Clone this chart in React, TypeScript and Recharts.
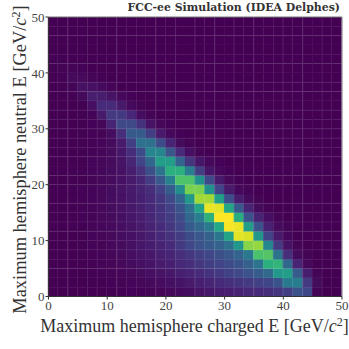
import { Bar, BarChart, ReferenceLine, XAxis, YAxis } from "recharts";

const WIDTH = 349;
const HEIGHT = 349;
const MARGIN = { top: 17, right: 7, left: 0, bottom: 0 };
const Y_AXIS_W = 48.5;
const X_AXIS_H = 52.5;
const BIN = 50 / 30;
const FONT = "'Liberation Serif', serif";

const ticks = [0, 10, 20, 30, 40, 50];

// bin centres along charged E
const binCenters = [
  0.83, 2.5, 4.17, 5.83, 7.5, 9.17, 10.83, 12.5, 14.17, 15.83, 17.5, 19.17, 20.83, 22.5, 24.17,
  25.83, 27.5, 29.17, 30.83, 32.5, 34.17, 35.83, 37.5, 39.17, 40.83, 42.5, 44.17, 45.83, 47.5, 49.17,
];

// faint seams of the mesh, at bin edges
const seamsX = [3.33, 6.67, 8.33, 11.67, 15, 18.33, 21.67, 25, 28.33, 31.67, 35, 38.33, 40, 43.33, 46.67];
const seamsY = [5, 8.33, 11.67, 13.33, 16.67, 20, 21.67, 25, 28.33, 30, 33.33, 36.67, 38.33, 41.67, 46.67];

// normalised counts, read by eye. Row 0 is the lowest neutral E bin
const heat = [
  [0, 0, 0, 0, 0, 0, .002, .003, .005, .007, .01, .014, .02, .026, .035, .05, .065, .075, .085, .095, .11, .12, .13, .15, .18, .25, .21, .01, 0, 0],
  [0, 0, 0, 0, .002, .004, .007, .01, .014, .018, .025, .032, .042, .055, .07, .085, .1, .12, .135, .15, .17, .19, .21, .26, .41, .42, .17, .03, 0, 0],
  [0, 0, 0, 0, .003, .006, .01, .015, .02, .03, .04, .05, .065, .085, .1, .12, .145, .17, .195, .22, .25, .29, .34, .53, .55, .29, .08, .01, 0, 0],
  [0, 0, 0, .002, .004, .008, .013, .02, .03, .04, .055, .07, .085, .11, .13, .155, .18, .2, .23, .26, .31, .38, .63, .65, .33, .1, .02, 0, 0, 0],
  [0, 0, 0, .002, .006, .011, .017, .025, .038, .05, .065, .085, .1, .13, .155, .185, .21, .24, .27, .32, .4, .71, .73, .38, .13, .03, .01, 0, 0, 0],
  [0, 0, 0, .003, .008, .013, .02, .03, .042, .06, .075, .095, .12, .165, .21, .25, .28, .31, .37, .52, .82, .84, .46, .17, .05, .01, 0, 0, 0, 0],
  [0, 0, 0, .003, .009, .015, .024, .034, .047, .065, .085, .11, .14, .175, .23, .27, .31, .39, .58, .96, .94, .52, .2, .07, .02, 0, 0, 0, 0, 0],
  [0, 0, .002, .004, .01, .017, .026, .038, .05, .072, .095, .12, .155, .2, .28, .33, .41, .6, .99, .97, .55, .25, .09, .03, .01, 0, 0, 0, 0, 0],
  [0, 0, .002, .005, .011, .019, .03, .042, .06, .08, .105, .14, .175, .23, .33, .42, .64, 1, 1, .62, .26, .1, .04, .01, 0, 0, 0, 0, 0, 0],
  [0, 0, .002, .005, .012, .021, .034, .047, .064, .085, .11, .145, .19, .26, .37, .58, .97, .96, .6, .28, .1, .03, .01, 0, 0, 0, 0, 0, 0, 0],
  [0, 0, .002, .005, .012, .021, .034, .047, .068, .085, .115, .155, .22, .32, .53, .86, .86, .56, .24, .08, .03, .01, 0, 0, 0, 0, 0, 0, 0, 0],
  [0, 0, .002, .005, .012, .021, .034, .05, .07, .095, .13, .19, .29, .48, .8, .8, .5, .2, .07, .02, .01, 0, 0, 0, 0, 0, 0, 0, 0, 0],
  [0, 0, .002, .004, .01, .019, .03, .047, .07, .105, .175, .27, .43, .72, .72, .5, .22, .07, .02, .005, 0, 0, 0, 0, 0, 0, 0, 0, 0, 0],
  [0, 0, .002, .004, .009, .017, .03, .047, .08, .14, .24, .38, .63, .63, .42, .18, .06, .02, .005, 0, 0, 0, 0, 0, 0, 0, 0, 0, 0, 0],
  [0, 0, .002, .003, .008, .017, .03, .052, .105, .2, .33, .55, .55, .32, .15, .06, .02, .005, 0, 0, 0, 0, 0, 0, 0, 0, 0, 0, 0, 0],
  [0, 0, .001, .003, .007, .015, .03, .06, .125, .23, .46, .46, .27, .12, .04, .01, 0, 0, 0, 0, 0, 0, 0, 0, 0, 0, 0, 0, 0, 0],
  [0, 0, .001, .003, .007, .014, .03, .07, .18, .37, .37, .23, .1, .03, .01, 0, 0, 0, 0, 0, 0, 0, 0, 0, 0, 0, 0, 0, 0, 0],
  [0, 0, .001, .002, .006, .013, .035, .13, .28, .28, .18, .07, .02, .005, 0, 0, 0, 0, 0, 0, 0, 0, 0, 0, 0, 0, 0, 0, 0, 0],
  [0, 0, .001, .002, .005, .017, .1, .22, .22, .14, .05, .02, .005, 0, 0, 0, 0, 0, 0, 0, 0, 0, 0, 0, 0, 0, 0, 0, 0, 0],
  [0, 0, .001, .002, .008, .07, .17, .17, .11, .035, .01, 0, 0, 0, 0, 0, 0, 0, 0, 0, 0, 0, 0, 0, 0, 0, 0, 0, 0, 0],
  [0, 0, .001, .003, .04, .12, .12, .07, .025, .01, 0, 0, 0, 0, 0, 0, 0, 0, 0, 0, 0, 0, 0, 0, 0, 0, 0, 0, 0, 0],
  [0, 0, .002, .025, .08, .08, .05, .02, .005, 0, 0, 0, 0, 0, 0, 0, 0, 0, 0, 0, 0, 0, 0, 0, 0, 0, 0, 0, 0, 0],
  [0, .002, .012, .045, .045, .025, .008, 0, 0, 0, 0, 0, 0, 0, 0, 0, 0, 0, 0, 0, 0, 0, 0, 0, 0, 0, 0, 0, 0, 0],
  [0, .005, .025, .025, .012, .004, 0, 0, 0, 0, 0, 0, 0, 0, 0, 0, 0, 0, 0, 0, 0, 0, 0, 0, 0, 0, 0, 0, 0, 0],
  [.002, .01, .01, .005, 0, 0, 0, 0, 0, 0, 0, 0, 0, 0, 0, 0, 0, 0, 0, 0, 0, 0, 0, 0, 0, 0, 0, 0, 0, 0],
  [.003, .003, .001, 0, 0, 0, 0, 0, 0, 0, 0, 0, 0, 0, 0, 0, 0, 0, 0, 0, 0, 0, 0, 0, 0, 0, 0, 0, 0, 0],
  [0, 0, 0, 0, 0, 0, 0, 0, 0, 0, 0, 0, 0, 0, 0, 0, 0, 0, 0, 0, 0, 0, 0, 0, 0, 0, 0, 0, 0, 0],
  [0, 0, 0, 0, 0, 0, 0, 0, 0, 0, 0, 0, 0, 0, 0, 0, 0, 0, 0, 0, 0, 0, 0, 0, 0, 0, 0, 0, 0, 0],
  [0, 0, 0, 0, 0, 0, 0, 0, 0, 0, 0, 0, 0, 0, 0, 0, 0, 0, 0, 0, 0, 0, 0, 0, 0, 0, 0, 0, 0, 0],
  [0, 0, 0, 0, 0, 0, 0, 0, 0, 0, 0, 0, 0, 0, 0, 0, 0, 0, 0, 0, 0, 0, 0, 0, 0, 0, 0, 0, 0, 0],
];

const VIRIDIS = [
  [68, 1, 84], [72, 36, 117], [65, 68, 135], [53, 95, 141], [42, 120, 142], [33, 145, 140],
  [34, 168, 132], [68, 191, 112], [122, 209, 81], [189, 223, 38], [253, 231, 37],
];

const viridis = (v: number) => {
  const t = Math.min(Math.max(v, 0), 1) * 10;
  const k = Math.min(Math.floor(t), 9);
  const f = t - k;
  const c = VIRIDIS[k].map((a, n) => Math.round(a + (VIRIDIS[k + 1][n] - a) * f));
  return `rgb(${c[0]},${c[1]},${c[2]})`;
};

// each column stacks 30 equal bins, the colour carries the count
const data = binCenters.map((x) => {
  const d: Record<string, number> = { x };
  heat.forEach((_, j) => {
    d[`r${j}`] = BIN;
  });
  return d;
});

const barW = (WIDTH - Y_AXIS_W - MARGIN.right) / 30;

const labelStyle = { fontFamily: FONT, fill: "#333" };

// recharts floors the bar width, so the cell is drawn at the full bin width around the bar's centre
const meshCell = (row: number[]) => (p: any) => (
  <rect
    x={p.x + p.width / 2 - barW / 2}
    y={p.y}
    width={barW}
    height={p.height}
    fill={viridis(row[p.index])}
    stroke={viridis(row[p.index])}
    strokeWidth={0.3}
  />
);

const XLabel = () => (
  <text x={194.5} y={332} textAnchor="middle" fontSize={18} {...labelStyle}>
    Maximum hemisphere charged E [GeV/<tspan fontStyle="italic">c</tspan>
    <tspan dy={-6} fontSize={12}>2</tspan>
    <tspan dy={6}>]</tspan>
  </text>
);

const YLabel = () => (
  <text x={26} y={159.5} textAnchor="middle" transform="rotate(-90 26 159.5)" fontSize={18.4} {...labelStyle}>
    Maximum hemisphere neutral E [GeV/<tspan fontStyle="italic">c</tspan>
    <tspan dy={-6} fontSize={12}>2</tspan>
    <tspan dy={6}>]</tspan>
  </text>
);

export default function App() {
  return (
    <div style={{ position: "absolute", left: 0, top: 0, width: WIDTH, height: HEIGHT, background: "#fff" }}>
      <BarChart
        width={WIDTH}
        height={HEIGHT}
        data={data}
        margin={MARGIN}
        barCategoryGap={0}
        barGap={0}
        barSize={barW}
      >
        <XAxis
          dataKey="x"
          type="number"
          domain={[0, 50]}
          ticks={ticks}
          height={X_AXIS_H}
          tickSize={3}
          tickMargin={1}
          interval={0}
          stroke="#333"
          tick={{ fontFamily: FONT, fontSize: 13, fill: "#444" }}
        />
        <YAxis
          type="number"
          domain={[0, 50]}
          ticks={ticks}
          width={Y_AXIS_W}
          tickSize={3}
          tickMargin={1}
          interval={0}
          allowDataOverflow
          stroke="#333"
          tick={{ fontFamily: FONT, fontSize: 13, fill: "#444" }}
        />
        {heat.map((row, j) => (
          <Bar key={j} dataKey={`r${j}`} stackId="mesh" isAnimationActive={false} shape={meshCell(row)} />
        ))}
        {seamsX.map((x) => (
          <ReferenceLine key={`sx${x}`} x={x} stroke="#fff" strokeOpacity={0.08} strokeWidth={1} />
        ))}
        {seamsY.map((y) => (
          <ReferenceLine key={`sy${y}`} y={y} stroke="#fff" strokeOpacity={0.08} strokeWidth={1} />
        ))}
        <ReferenceLine x={50} stroke="#777" strokeWidth={1} />
        <ReferenceLine y={50} stroke="#777" strokeWidth={1} />
        <text
          x={340}
          y={11}
          textAnchor="end"
          style={{ fontFamily: "'DejaVu Serif', serif", fontSize: 10.9, fontWeight: 700, fill: "#333" }}
        >
          FCC-ee Simulation (IDEA Delphes)
        </text>
        <XLabel />
        <YLabel />
      </BarChart>
    </div>
  );
}
